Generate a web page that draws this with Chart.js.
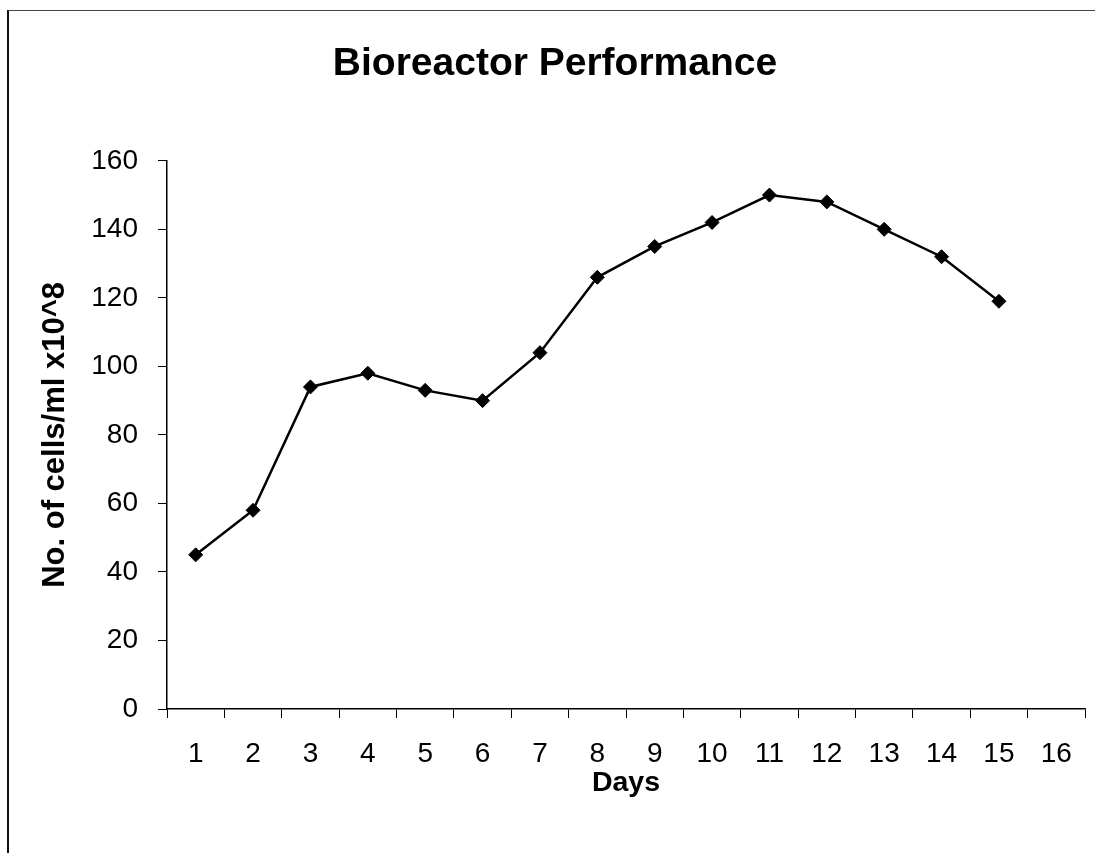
<!DOCTYPE html>
<html>
<head>
<meta charset="utf-8">
<script src="https://cdn.jsdelivr.net/npm/chart.js@4"></script>
<style>
  html, body { margin: 0; padding: 0; background: #fff; }
  #wrap { position: relative; width: 1095px; height: 853px; overflow: hidden; }
  #frame { position: absolute; left: 7px; top: 10px; width: 1200px; height: 1000px;
           border-left: 2px solid #111; border-top: 1px solid #444; }
  canvas { position: absolute; left: 0; top: 0; }
</style>
</head>
<body>
<div id="wrap">
  <div id="frame"></div>
  <canvas id="c" width="1095" height="853"></canvas>
</div>
<script>
const titleText = 'Bioreactor Performance';
const xTitle = 'Days';
const yTitle = 'No. of cells/ml x10^8';
const days = ['1','2','3','4','5','6','7','8','9','10','11','12','13','14','15','16'];
const cells = [45, 58, 94, 98, 93, 90, 104, 126, 135, 142, 150, 148, 140, 132, 119, null];
const yMin = 0, yMax = 160, yStep = 20;

const FONT = "'Liberation Sans', Arial, sans-serif";

new Chart(document.getElementById('c'), {
  type: 'line',
  data: {
    labels: days,
    datasets: [{
      data: cells,
      borderColor: '#000',
      borderWidth: 2.5,
      backgroundColor: '#000',
      pointStyle: 'rectRot',
      pointRadius: 7,
      pointBorderWidth: 1,
      pointBackgroundColor: '#000',
      pointBorderColor: '#000',
      tension: 0,
      fill: false
    }]
  },
  options: {
    responsive: false,
    devicePixelRatio: 1,
    animation: false,
    layout: { padding: { left: 25, right: 10, top: 0, bottom: 0 } },
    plugins: {
      legend: { display: false },
      tooltip: { enabled: false },
      title: {
        display: true,
        text: titleText,
        color: '#000',
        font: { family: FONT, size: 39, weight: 'bold' },
        padding: { top: 41, bottom: 73 }
      }
    },
    scales: {
      x: {
        type: 'category',
        offset: true,
        grid: { display: true, drawOnChartArea: false, drawTicks: true, tickLength: 9, color: '#000', offset: true },
        border: { display: true, color: '#000', width: 1.5 },
        ticks: { color: '#000', padding: 19, font: { family: FONT, size: 28 }, maxRotation: 0, autoSkip: false },
        title: { display: true, text: xTitle, color: '#000', font: { family: FONT, size: 28.5, weight: 'bold' }, padding: { top: 0, bottom: 53 } },
        afterFit: (s) => { s.height = 144; }
      },
      y: {
        min: yMin, max: yMax,
        grid: { display: true, drawOnChartArea: false, drawTicks: true, tickLength: 9, color: '#000' },
        border: { display: true, color: '#000', width: 1.5 },
        ticks: { stepSize: yStep, color: '#000', padding: 20, font: { family: FONT, size: 28 } },
        title: { display: true, text: yTitle, color: '#000', font: { family: FONT, size: 31, weight: 'bold' }, padding: { top: 12, bottom: 0 } },
        afterFit: (s) => { s.width = 142; }
      }
    }
  }
});
</script>
</body>
</html>
